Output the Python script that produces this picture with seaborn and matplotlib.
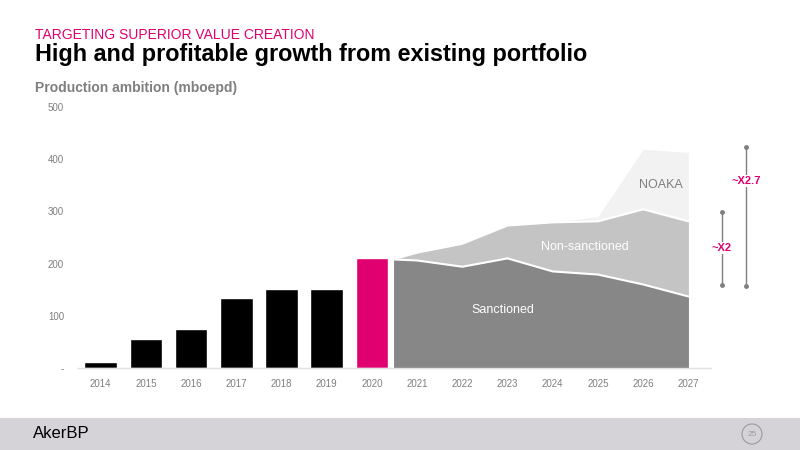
import matplotlib
matplotlib.use("Agg")
import matplotlib.pyplot as plt
import seaborn as sns
import pandas as pd
from matplotlib.patches import Rectangle, Ellipse

sns.set_theme(style="white")
plt.rcParams['font.family'] = ['Liberation Sans', 'DejaVu Sans']

years = [str(y) for y in range(2014, 2028)]
bar_years = years[:7]
bar_values = [12, 56, 75, 135, 152, 152, 210]
bar_colors = ['black'] * 6 + ['#e0006f']

area_years = [2020.46, 2021, 2022, 2023, 2024, 2025, 2026, 2027]
sanctioned = [208, 206, 194, 210, 185, 179, 160, 137]
non_sanct_total = [208, 221, 238, 273, 279, 281, 304, 281]
noaka_total = [208, 221, 238, 273, 279, 290, 419, 413]

MAG = '#e0006f'
fig = plt.figure(figsize=(8, 4.5), dpi=100)
ax = fig.add_axes([78/800, 1-368/450, (711-78)/800, 261/450])

df = pd.DataFrame({'year': bar_years, 'value': bar_values})
sns.barplot(data=df, x='year', y='value', hue='year', palette=bar_colors,
            order=years, width=0.72, legend=False, ax=ax, saturation=1)

xpos = [y - 2014 for y in area_years]
ax.fill_between(xpos, 0, noaka_total, color='#f2f2f2', lw=0)
ax.fill_between(xpos, 0, non_sanct_total, color='#c4c4c4', lw=0)
ax.fill_between(xpos, 0, sanctioned, color='#878787', lw=0)
ax.plot(xpos, non_sanct_total, color='white', lw=1.5)
ax.plot(xpos, sanctioned, color='white', lw=1.5)
ax.axvline(xpos[0], ymin=0, ymax=208/500, color='white', lw=1.5)

ax.text(10.7, 232, 'Non-sanctioned', color='white', fontsize=9, ha='center', va='center')
ax.text(8.9, 112, 'Sanctioned', color='white', fontsize=9, ha='center', va='center')
ax.text(12.4, 350, 'NOAKA', color='#7f7f7f', fontsize=9, ha='center', va='center')

ax.set_xlim(-0.5, 13.5)
ax.set_ylim(0, 500)
ax.set_yticks([0, 100, 200, 300, 400, 500])
ax.set_yticklabels(['-', '100', '200', '300', '400', '500'])
ax.set_xlabel(''); ax.set_ylabel('')
ax.tick_params(axis='both', labelsize=7, colors='#7f7f7f', length=0)
ax.tick_params(axis='x', pad=8)
ax.tick_params(axis='y', pad=10)
for s in ['top', 'right', 'left']:
    ax.spines[s].set_visible(False)
ax.spines['bottom'].set_color('#e0e0e0')
ax.spines['bottom'].set_linewidth(1)

def bracket(x, y0, y1, label, ly):
    fig.add_artist(plt.Line2D([x/800, x/800], [1-y0/450, 1-y1/450], color='#7f7f7f', lw=1,
                              marker='o', markersize=2.5, markevery=[0, 1]))
    fig.text(x/800, 1-ly/450, label, color=MAG, fontsize=8, fontweight='bold', ha='center',
             va='center', bbox=dict(facecolor='white', edgecolor='none', pad=1))
bracket(722, 212, 285, '~X2', 248)
bracket(746, 147, 286, '~X2.7', 181)

fig.text(35/800, 1-35/450, 'TARGETING SUPERIOR VALUE CREATION', color=MAG, fontsize=10, va='center')
fig.text(35/800, 1-55/450, 'High and profitable growth from existing portfolio', color='black',
         fontsize=16.8, fontweight='bold', va='center')
fig.text(35/800, 1-88/450, 'Production ambition (mboepd)', color='#7f7f7f', fontsize=10,
         fontweight='bold', va='center')

fig.add_artist(Rectangle((0, 0), 1, 32/450, transform=fig.transFigure, color='#d5d3d7', lw=0))
fig.text(33/800, 1-434/450, 'AkerBP', fontsize=12, color='black', va='center')
fig.add_artist(Ellipse((752/800, 1-434/450), 20/800, 20/450, transform=fig.transFigure, fill=False,
                       edgecolor='#9a9a9a', lw=0.8))
fig.text(752/800, 1-434/450, '25', fontsize=6, color='#9a9a9a', ha='center', va='center')

fig.savefig('out.png', dpi=100)
